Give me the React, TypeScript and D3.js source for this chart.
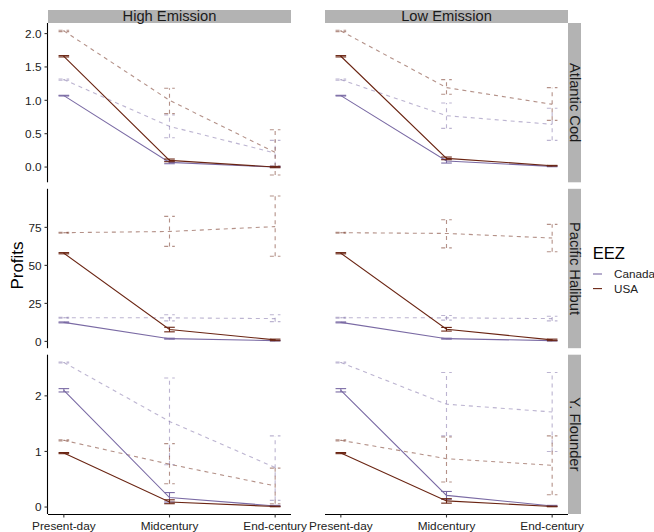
import React from "react";
import * as d3 from "d3";

const periods = ["Present-day", "Midcentury", "End-century"];
const scenarios = ["High Emission", "Low Emission"];
const species = ["Atlantic Cod", "Pacific Halibut", "Y. Flounder"];
const eezLevels = ["Canada", "USA"];

type S = { sc: string; eez: string; dashed: boolean; mean: number[]; lo: number[]; hi: number[] };

const atlanticCod: S[] = [
  { sc: "High Emission", eez: "Canada", dashed: true, mean: [1.31, 0.61, 0.21], lo: [1.30, 0.44, 0.02], hi: [1.32, 0.78, 0.40] },
  { sc: "High Emission", eez: "USA", dashed: true, mean: [2.04, 1.0, 0.22], lo: [2.03, 0.8, -0.12], hi: [2.05, 1.18, 0.56] },
  { sc: "High Emission", eez: "Canada", dashed: false, mean: [1.07, 0.07, 0.0], lo: [1.065, 0.05, -0.005], hi: [1.075, 0.09, 0.005] },
  { sc: "High Emission", eez: "USA", dashed: false, mean: [1.66, 0.10, 0.0], lo: [1.65, 0.08, -0.01], hi: [1.67, 0.12, 0.01] },
  { sc: "Low Emission", eez: "Canada", dashed: true, mean: [1.31, 0.77, 0.64], lo: [1.30, 0.58, 0.40], hi: [1.32, 0.96, 0.88] },
  { sc: "Low Emission", eez: "USA", dashed: true, mean: [2.04, 1.19, 0.94], lo: [2.03, 1.09, 0.70], hi: [2.05, 1.31, 1.19] },
  { sc: "Low Emission", eez: "Canada", dashed: false, mean: [1.07, 0.09, 0.01], lo: [1.065, 0.06, 0.005], hi: [1.075, 0.12, 0.015] },
  { sc: "Low Emission", eez: "USA", dashed: false, mean: [1.66, 0.13, 0.02], lo: [1.65, 0.11, 0.015], hi: [1.67, 0.15, 0.025] },
];

const pacificHalibut: S[] = [
  { sc: "High Emission", eez: "Canada", dashed: true, mean: [15.6, 15.5, 15.0], lo: [15.3, 13.5, 13.0], hi: [15.9, 17.5, 17.5] },
  { sc: "High Emission", eez: "USA", dashed: true, mean: [71.5, 72.3, 75.5], lo: [71.2, 62.5, 56.0], hi: [71.8, 82.2, 95.6] },
  { sc: "High Emission", eez: "Canada", dashed: false, mean: [12.5, 1.8, 0.5], lo: [12.2, 1.5, 0.3], hi: [12.8, 2.1, 0.7] },
  { sc: "High Emission", eez: "USA", dashed: false, mean: [58.0, 7.8, 1.0], lo: [57.6, 6.3, 0.5], hi: [58.4, 9.3, 1.5] },
  { sc: "Low Emission", eez: "Canada", dashed: true, mean: [15.6, 15.5, 15.0], lo: [15.3, 14.0, 13.5], hi: [15.9, 17.0, 16.5] },
  { sc: "Low Emission", eez: "USA", dashed: true, mean: [71.5, 71.0, 68.0], lo: [71.2, 61.5, 59.0], hi: [71.8, 80.0, 77.0] },
  { sc: "Low Emission", eez: "Canada", dashed: false, mean: [12.5, 1.8, 0.5], lo: [12.2, 1.5, 0.3], hi: [12.8, 2.1, 0.7] },
  { sc: "Low Emission", eez: "USA", dashed: false, mean: [58.0, 8.0, 1.0], lo: [57.6, 6.8, 0.5], hi: [58.4, 9.2, 1.5] },
];

const yFlounder: S[] = [
  { sc: "High Emission", eez: "Canada", dashed: true, mean: [2.60, 1.54, 0.71], lo: [2.59, 0.76, 0.12], hi: [2.61, 2.32, 1.28] },
  { sc: "High Emission", eez: "USA", dashed: true, mean: [1.20, 0.77, 0.38], lo: [1.19, 0.42, 0.06], hi: [1.21, 1.14, 0.70] },
  { sc: "High Emission", eez: "Canada", dashed: false, mean: [2.10, 0.17, 0.02], lo: [2.07, 0.09, 0.01], hi: [2.13, 0.26, 0.03] },
  { sc: "High Emission", eez: "USA", dashed: false, mean: [0.97, 0.09, 0.01], lo: [0.96, 0.06, 0.005], hi: [0.98, 0.13, 0.015] },
  { sc: "Low Emission", eez: "Canada", dashed: true, mean: [2.60, 1.85, 1.71], lo: [2.59, 1.28, 1.0], hi: [2.61, 2.42, 2.42] },
  { sc: "Low Emission", eez: "USA", dashed: true, mean: [1.20, 0.87, 0.75], lo: [1.19, 0.45, 0.22], hi: [1.21, 1.26, 1.28] },
  { sc: "Low Emission", eez: "Canada", dashed: false, mean: [2.10, 0.21, 0.02], lo: [2.07, 0.14, 0.01], hi: [2.13, 0.28, 0.03] },
  { sc: "Low Emission", eez: "USA", dashed: false, mean: [0.97, 0.11, 0.01], lo: [0.96, 0.07, 0.005], hi: [0.98, 0.15, 0.015] },
];

const speciesData = [atlanticCod, pacificHalibut, yFlounder];
const codTicks = [0, 0.5, 1, 1.5, 2];
const halibutTicks = [0, 25, 50, 75];
const flounderTicks = [0, 1, 2];
const yTicks = [codTicks, halibutTicks, flounderTicks];
const tickFormats = [d3.format(".1f"), d3.format("d"), d3.format("d")];

const colorScale = d3.scaleOrdinal<string, string>().domain(eezLevels).range(["#7a6aa4", "#6a2412"]);

const W = 654, H = 532;
const colX: [number, number][] = [[48, 291], [325, 568]];
const rowY: [number, number][] = [[23, 182.3], [188.8, 348.2], [354.7, 514]];
const FONT = "'Liberation Sans', Arial, Helvetica, sans-serif";

export default function App() {
  const yScales = speciesData.map((data, i) => {
    const lo = d3.min(data, (d) => d3.min(d.lo)) as number;
    const hi = d3.max(data, (d) => d3.max(d.hi)) as number;
    const pad = (hi - lo) * 0.05;
    return d3.scaleLinear().domain([lo - pad, hi + pad]).range([rowY[i][1], rowY[i][0]]);
  });
  const xScales = colX.map((c) => d3.scalePoint<string>().domain(periods).range(c).padding(0.15));

  const panels: React.ReactNode[] = [];
  speciesData.forEach((data, r) => {
    const y = yScales[r];
    scenarios.forEach((sc, c) => {
      const x = xScales[c];
      const series = data.filter((d) => d.sc === sc);
      const line = d3.line<number>().x((_, i) => x(periods[i]) as number).y((v) => y(v));
      panels.push(
        <g key={`p-${r}-${c}`}>
          {series.map((s, k) => {
            const col = colorScale(s.eez);
            const op = s.dashed ? 0.5 : 1;
            const dash = s.dashed ? "4,4" : undefined;
            return (
              <g key={k} stroke={col} strokeOpacity={op} fill="none" strokeWidth={1.1} strokeDasharray={dash}>
                <path d={line(s.mean) as string} />
                {s.mean.map((_, i) => {
                  const px = x(periods[i]) as number;
                  const y0 = y(s.lo[i]);
                  const y1 = y(s.hi[i]);
                  return (
                    <g key={i}>
                      <line x1={px} x2={px} y1={y0} y2={y1} />
                      <line x1={px - 5.3} x2={px + 5.3} y1={y0} y2={y0} />
                      <line x1={px - 5.3} x2={px + 5.3} y1={y1} y2={y1} />
                    </g>
                  );
                })}
              </g>
            );
          })}
        </g>
      );
    });
  });

  return (
    <svg width={W} height={H} style={{ position: "absolute", left: 0, top: 0 }} fontFamily={FONT}>
      <rect x={0} y={0} width={W} height={H} fill="#fff" />
      {/* top strips */}
      {scenarios.map((sc, c) => (
        <g key={sc}>
          <rect x={colX[c][0]} y={10} width={colX[c][1] - colX[c][0]} height={13} fill="#b3b3b3" />
          <text x={(colX[c][0] + colX[c][1]) / 2} y={21.3} textAnchor="middle" fontSize={14.7} fill="#1a1a1a">{sc}</text>
        </g>
      ))}
      {/* right strips */}
      {species.map((sp, r) => (
        <g key={sp}>
          <rect x={568} y={rowY[r][0]} width={13} height={rowY[r][1] - rowY[r][0]} fill="#b3b3b3" />
          <text transform={`translate(569.6,${(rowY[r][0] + rowY[r][1]) / 2}) rotate(90)`} textAnchor="middle" fontSize={14.7} fill="#1a1a1a">{sp}</text>
        </g>
      ))}
      {panels}
      {/* y axes */}
      {yScales.map((y, r) => (
        <g key={`ya-${r}`}>
          <line x1={47.5} x2={47.5} y1={rowY[r][0]} y2={rowY[r][1]} stroke="#000" strokeWidth={1.1} />
          {yTicks[r].map((t) => (
            <g key={t}>
              <line x1={44.5} x2={47.5} y1={y(t)} y2={y(t)} stroke="#333" strokeWidth={1.1} />
              <text x={41.5} y={y(t) + 4.2} textAnchor="end" fontSize={11.8} fill="#222">{tickFormats[r](t)}</text>
            </g>
          ))}
        </g>
      ))}
      {/* x axes */}
      {xScales.map((x, c) => (
        <g key={`xa-${c}`}>
          <line x1={colX[c][0]} x2={colX[c][1]} y1={514.5} y2={514.5} stroke="#000" strokeWidth={1.1} />
          {periods.map((p) => (
            <g key={p}>
              <line x1={x(p)} x2={x(p)} y1={514.5} y2={517.5} stroke="#333" strokeWidth={1.1} />
              <text x={x(p)} y={530} textAnchor="middle" fontSize={11.8} fill="#222">{p}</text>
            </g>
          ))}
        </g>
      ))}
      <text transform="translate(23,265.5) rotate(-90)" textAnchor="middle" fontSize={17} fill="#000">Profits</text>
      {/* legend */}
      <text x={592.7} y={258.6} fontSize={16.6} fill="#000">EEZ</text>
      {eezLevels.map((e, i) => (
        <g key={e}>
          <line x1={593} x2={602} y1={274 + i * 14.6} y2={274 + i * 14.6} stroke={colorScale(e)} strokeWidth={1.1} />
          <text x={614} y={278.2 + i * 14.6} fontSize={11.7} fill="#222">{e}</text>
        </g>
      ))}
    </svg>
  );
}
